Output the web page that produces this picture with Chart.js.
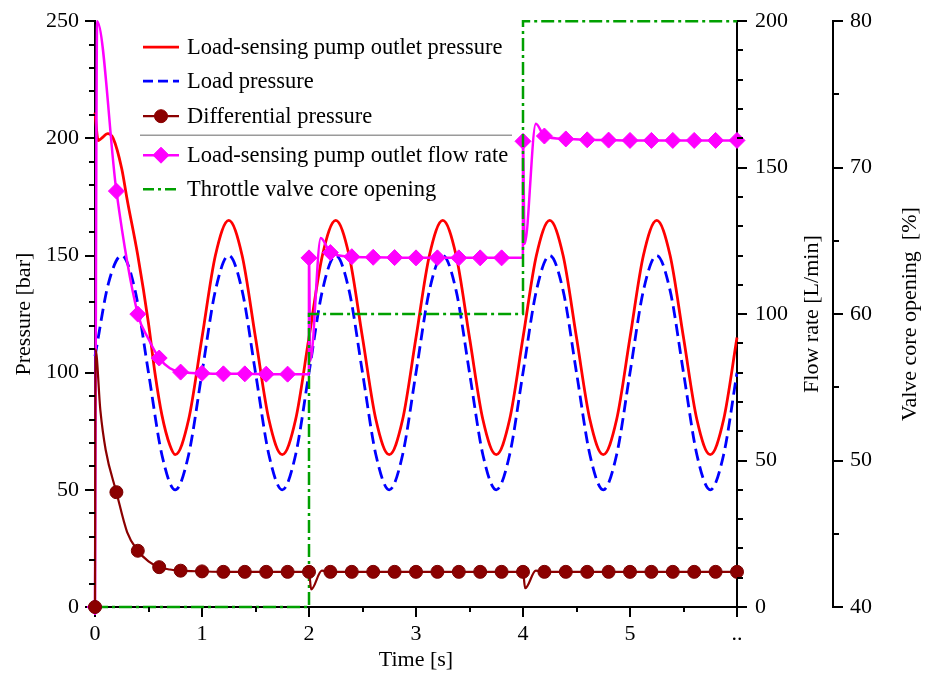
<!DOCTYPE html>
<html>
<head>
<meta charset="utf-8">
<title>Load-sensing pump response</title>
<script src="https://cdn.jsdelivr.net/npm/chart.js@4.4.1/dist/chart.umd.min.js"></script>
<style>
  html,body{margin:0;padding:0;background:#fff;}
  #wrap{width:925px;height:675px;}
</style>
</head>
<body>
<div id="wrap"><canvas id="chart" width="925" height="675"></canvas></div>
<script>
// values, time in s
const pumpTime = [0, 0.03, 0.06, 0.12, 0.17, 0.25, 0.3, 0.4, 0.5, 0.56, 0.625, 0.7, 0.75,
  0.875, 1, 1.125, 1.25, 1.375, 1.5, 1.625, 1.75, 1.875, 2, 2.125, 2.25, 2.375, 2.5, 2.625, 2.75,
  2.875, 3, 3.125, 3.25, 3.375, 3.5, 3.625, 3.75, 3.875, 4, 4.125, 4.25, 4.375, 4.5, 4.625, 4.75,
  4.875, 5, 5.125, 5.25, 5.375, 5.5, 5.625, 5.75, 5.875, 6];
const pumpPressure = [211, 199, 200, 202, 200, 187, 174, 150, 121, 100, 82, 69, 65,
  80, 115, 150, 165, 150, 115, 80, 65, 80, 115, 150, 165, 150, 115, 80, 65,
  80, 115, 150, 165, 150, 115, 80, 65, 80, 115, 150, 165, 150, 115, 80, 65,
  80, 115, 150, 165, 150, 115, 80, 65, 80, 115];

const loadTime = [0, 0.125, 0.25, 0.375, 0.5, 0.625, 0.75, 0.875, 1, 1.125, 1.25, 1.375, 1.5,
  1.625, 1.75, 1.875, 2, 2.125, 2.25, 2.375, 2.5, 2.625, 2.75, 2.875, 3, 3.125, 3.25, 3.375, 3.5,
  3.625, 3.75, 3.875, 4, 4.125, 4.25, 4.375, 4.5, 4.625, 4.75, 4.875, 5, 5.125, 5.25, 5.375, 5.5,
  5.625, 5.75, 5.875, 6];
const loadPressure = [107, 138, 150, 135, 100, 65, 50, 65, 100, 135, 150, 135, 100,
  65, 50, 65, 100, 135, 150, 135, 100, 65, 50, 65, 100, 135, 150, 135, 100,
  65, 50, 65, 100, 135, 150, 135, 100, 65, 50, 65, 100, 135, 150, 135, 100,
  65, 50, 65, 100];

const diffTime = [0, 0.005, 0.05, 0.1, 0.2, 0.3, 0.4, 0.5, 0.6, 0.7, 0.8, 1, 1.2, 1.4, 1.6, 1.8,
  2, 2.02, 2.12, 2.2, 2.4, 2.6, 2.8, 3, 3.2, 3.4, 3.6, 3.8,
  4, 4.02, 4.12, 4.2, 4.4, 4.6, 4.8, 5, 5.2, 5.4, 5.6, 5.8, 6];
const diffPressure = [0, 110, 84, 67, 49, 32, 24, 19.5, 17, 16, 15.5, 15.2, 15, 15, 15, 15,
  15, 7.5, 15.5, 15, 15, 15, 15, 15, 15, 15, 15, 15,
  15, 8, 15.5, 15, 15, 15, 15, 15, 15, 15, 15, 15, 15];

const flowTime = [0, 0.02, 0.2, 0.4, 0.5, 0.6, 0.7, 0.8, 1, 1.2, 1.4, 1.6, 1.8, 1.999,
  2, 2.012, 2.11, 2.2, 2.4, 2.6, 2.8, 3, 3.2, 3.4, 3.6, 3.8, 3.999,
  4, 4.015, 4.12, 4.2, 4.4, 4.6, 4.8, 5, 5.2, 5.4, 5.6, 5.8, 6];
const flowRate = [0, 200, 142, 100, 91.5, 85, 81.5, 80.2, 79.8, 79.6, 79.6, 79.5, 79.5, 79.5,
  119.2, 84, 126, 121, 119.6, 119.4, 119.3, 119.2, 119.2, 119.2, 119.2, 119.2, 119.2,
  159, 124, 165, 160.8, 159.8, 159.5, 159.4, 159.3, 159.3, 159.3, 159.3, 159.3, 159.3];

const valveTime = [0, 2, 2, 4, 4, 6];
const valveOpening = [40, 40, 60, 60, 80, 80];

const seriesLabels = ["Load-sensing pump outlet pressure", "Load pressure", "Differential pressure",
  "Load-sensing pump outlet flow rate", "Throttle valve core opening"];

const FONT = "'Liberation Serif', 'Times New Roman', serif";

function pts(xs, ys){ return xs.map((x, i) => ({ x, y: ys[i] })); }
function onGrid(v, step){ const k = v / step; return Math.abs(k - Math.round(k)) < 1e-6; }
// markers sit on the 0.2 s samples only
function markerRadius(r){ return ctx => (ctx.raw && onGrid(ctx.raw.x, 0.2)) ? r : 0; }

// minor tick spacing per axis (majors come from stepSize)
const minorSteps = { x: 0.5, y: 10, yFlow: 10, yValve: 5 };

const minorTickPlugin = {
  id: "minorTicks",
  afterDraw(chart){
    const ctx = chart.ctx;
    ctx.save();
    ctx.strokeStyle = "#000";
    ctx.lineWidth = 2;
    for (const id of Object.keys(minorSteps)){
      const s = chart.scales[id];
      const step = minorSteps[id];
      const major = s.options.ticks.stepSize;
      const n = Math.round((s.max - s.min) / step);
      for (let k = 1; k < n; k++){
        const v = s.min + k * step;
        if (onGrid(v - s.min, major)) continue;
        const p = Math.round(s.getPixelForValue(v));
        ctx.beginPath();
        if (id === "x"){ ctx.moveTo(p, s.top); ctx.lineTo(p, s.top + 5); }
        else if (s.position === "left"){ ctx.moveTo(s.right - 6, p); ctx.lineTo(s.right, p); }
        else { ctx.moveTo(s.left, p); ctx.lineTo(s.left + 6, p); }
        ctx.stroke();
      }
    }
    ctx.restore();
  }
};

// the two right-hand titles read bottom-to-top like the left one
const sideTitles = [
  { axis: "yFlow", text: "Flow rate [L/min]", inset: 21 },
  { axis: "yValve", text: "Valve core opening  [%]", inset: 15 }
];
const sideTitlePlugin = {
  id: "sideTitles",
  afterDraw(chart){
    const ctx = chart.ctx;
    const midY = (chart.chartArea.top + chart.chartArea.bottom) / 2;
    ctx.save();
    ctx.font = `22px ${FONT}`;
    ctx.fillStyle = "#000";
    ctx.textAlign = "center";
    ctx.textBaseline = "middle";
    for (const t of sideTitles){
      const s = chart.scales[t.axis];
      ctx.save();
      ctx.translate(s.right - t.inset, midY);
      ctx.rotate(-Math.PI / 2);
      ctx.fillText(t.text, 0, 0);
      ctx.restore();
    }
    ctx.restore();
  }
};

function drawMarker(ctx, style, x, y, r, color){
  ctx.save();
  ctx.setLineDash([]);
  ctx.fillStyle = color;
  ctx.strokeStyle = color;
  ctx.lineWidth = 1;
  ctx.beginPath();
  if (style === "circle") ctx.arc(x, y, r, 0, Math.PI * 2);
  else { ctx.moveTo(x, y - r); ctx.lineTo(x + r, y); ctx.lineTo(x, y + r); ctx.lineTo(x - r, y); ctx.closePath(); }
  ctx.fill();
  ctx.stroke();
  ctx.restore();
}

const legendRows = [26, 60, 95, 134, 168];
const legendPlugin = {
  id: "insideLegend",
  afterDatasetsDraw(chart){
    const { ctx, chartArea } = chart;
    const x0 = chartArea.left + 48, x1 = x0 + 36, tx = x1 + 8;
    ctx.save();
    ctx.font = `22.5px ${FONT}`;
    ctx.textBaseline = "middle";
    chart.data.datasets.forEach((ds, i) => {
      const y = chartArea.top + legendRows[i];
      ctx.strokeStyle = ds.borderColor;
      ctx.lineWidth = ds.borderWidth;
      ctx.setLineDash(ds.legendDash || []);
      ctx.beginPath();
      ctx.moveTo(x0, y);
      ctx.lineTo(x1, y);
      ctx.stroke();
      if (ds.legendMarker) drawMarker(ctx, ds.pointStyle, (x0 + x1) / 2, y, ds.legendMarker, ds.pointBackgroundColor);
      ctx.fillStyle = "#000";
      ctx.fillText(ds.label, tx, y + 1);
    });
    // separator between pressure and flow/opening entries
    ctx.setLineDash([]);
    ctx.strokeStyle = "#9a9a9a";
    ctx.lineWidth = 1.5;
    ctx.beginPath();
    ctx.moveTo(x0 - 3, chartArea.top + 114);
    ctx.lineTo(chartArea.left + 417, chartArea.top + 114);
    ctx.stroke();
    ctx.restore();
  }
};

function axisBase(){
  return {
    border: { display: true, color: "#000", width: 2 },
    grid: { drawOnChartArea: false, drawTicks: true, tickLength: 10, color: "#000", lineWidth: 2 },
  };
}

const tickFont = { family: FONT, size: 22 };

new Chart(document.getElementById("chart"), {
  type: "line",
  data: {
    datasets: [
      { label: seriesLabels[0], data: pts(pumpTime, pumpPressure), yAxisID: "y",
        borderColor: "#ff0000", borderWidth: 2.8, pointRadius: 0, cubicInterpolationMode: "monotone", order: 4 },
      { label: seriesLabels[1], data: pts(loadTime, loadPressure), yAxisID: "y",
        borderColor: "#0000ff", borderWidth: 2.8, borderDash: [12, 6], legendDash: [10, 5],
        pointRadius: 0, cubicInterpolationMode: "monotone", order: 5 },
      { label: seriesLabels[2], data: pts(diffTime, diffPressure), yAxisID: "y",
        borderColor: "#8b0000", borderWidth: 2.2, cubicInterpolationMode: "monotone",
        pointStyle: "circle", pointRadius: markerRadius(6.5), pointBackgroundColor: "#8b0000",
        pointBorderColor: "#7a0000", pointBorderWidth: 1, legendMarker: 6.5, order: 1 },
      { label: seriesLabels[3], data: pts(flowTime, flowRate), yAxisID: "yFlow",
        borderColor: "#ff00ff", borderWidth: 2.5, cubicInterpolationMode: "monotone",
        pointStyle: "rectRot", pointRadius: markerRadius(8), pointBackgroundColor: "#ff00ff",
        pointBorderColor: "#ff00ff", pointBorderWidth: 1, legendMarker: 8, order: 3 },
      { label: seriesLabels[4], data: pts(valveTime, valveOpening), yAxisID: "yValve",
        borderColor: "#00a000", borderWidth: 2.5, borderDash: [13, 4, 3, 4], legendDash: [11, 4, 3, 4],
        pointRadius: 0, tension: 0, order: 2 }
    ]
  },
  options: {
    responsive: false,
    animation: false,
    events: [],
    layout: { padding: { top: 20, right: 0, bottom: 0, left: 0 } },
    datasets: { line: { clip: false } },
    plugins: { legend: { display: false }, tooltip: { enabled: false } },
    scales: {
      x: Object.assign(axisBase(), {
        type: "linear", min: 0, max: 6,
        ticks: { stepSize: 1, color: "#000", font: tickFont, padding: 4, maxRotation: 0,
          callback: v => v === 6 ? ".." : String(v) },
        title: { display: true, text: "Time [s]", color: "#000", font: tickFont, padding: { top: 0, bottom: 2 } },
        afterFit: s => { s.height = 68; }
      }),
      y: Object.assign(axisBase(), {
        type: "linear", position: "left", min: 0, max: 250,
        ticks: { stepSize: 50, color: "#000", font: tickFont, padding: 6 },
        title: { display: true, text: "Pressure [bar]", color: "#000", font: tickFont, padding: { top: 11, bottom: 0 } },
        afterFit: s => { s.width = 95; }
      }),
      yFlow: Object.assign(axisBase(), {
        type: "linear", position: "right", weight: 0, min: 0, max: 200,
        ticks: { stepSize: 50, color: "#000", font: tickFont, padding: 8 },
        afterFit: s => { s.width = 96; }
      }),
      yValve: Object.assign(axisBase(), {
        type: "linear", position: "right", weight: 1, min: 40, max: 80,
        ticks: { stepSize: 10, color: "#000", font: tickFont, padding: 7 },
        afterFit: s => { s.width = 92; }
      })
    }
  },
  plugins: [minorTickPlugin, legendPlugin, sideTitlePlugin]
});
</script>
</body>
</html>
